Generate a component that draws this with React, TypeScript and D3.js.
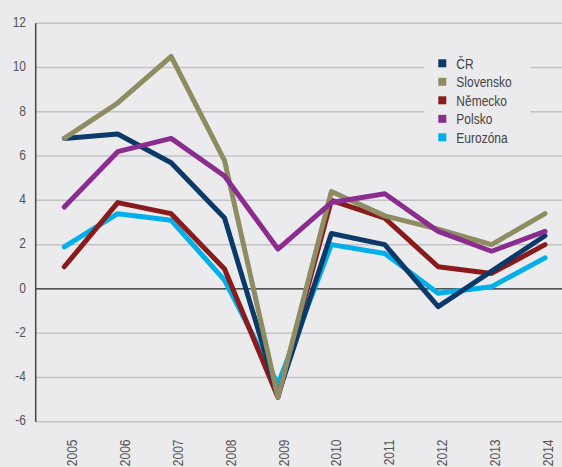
import React from 'react';
import * as d3 from 'd3';

const years = ['2005', '2006', '2007', '2008', '2009', '2010', '2011', '2012', '2013', '2014'];
const yTicks = [12, 10, 8, 6, 4, 2, 0, -2, -4, -6];

const crValues = [6.8, 7.0, 5.7, 3.2, -4.8, 2.5, 2.0, -0.8, 0.8, 2.4];
const skValues = [6.8, 8.4, 10.5, 5.8, -4.9, 4.4, 3.3, 2.7, 2.0, 3.4];
const deValues = [1.0, 3.9, 3.4, 0.9, -4.9, 4.0, 3.2, 1.0, 0.7, 2.0];
const plValues = [3.7, 6.2, 6.8, 5.1, 1.8, 3.9, 4.3, 2.6, 1.7, 2.6];
const ezValues = [1.9, 3.4, 3.1, 0.4, -4.3, 2.0, 1.6, -0.2, 0.1, 1.4];

const seriesNames = ['ČR', 'Slovensko', 'Německo', 'Polsko', 'Eurozóna'];

const colors: Record<string, string> = {
  'ČR': '#0b3a6a',
  'Slovensko': '#8e8c62',
  'Německo': '#8b1a1c',
  'Polsko': '#8b2d8e',
  'Eurozóna': '#00b0ea',
};

const valuesByName: Record<string, number[]> = {
  'ČR': crValues,
  'Slovensko': skValues,
  'Německo': deValues,
  'Polsko': plValues,
  'Eurozóna': ezValues,
};

// draw order (last on top)
const drawOrder = ['Eurozóna', 'Německo', 'ČR', 'Slovensko', 'Polsko'];

const W = 562;
const H = 467;
const font = '"Liberation Sans", Arial, sans-serif';
const squeeze = 0.8; // condensed look

export default function App() {
  const x = d3.scalePoint<string>().domain(years).range([64.3, 545]);
  const xLabel = d3.scalePoint<string>().domain(years).range([71.7, 547.8]);
  const y = d3.scaleLinear().domain([-6, 12]).range([421.7, 23.3]);
  const axisX = 35.7;

  const line = d3
    .line<number>()
    .x((_, i) => x(years[i]) as number)
    .y((d) => y(d));

  return (
    <svg
      width={W}
      height={H}
      style={{ position: 'absolute', left: 0, top: 0, display: 'block', background: '#ebebed' }}
    >
      <rect x={0} y={0} width={W} height={H} fill="#ebebed" />

      {/* gridlines */}
      {yTicks.filter((t) => t !== 0).map((t) => (
        <line key={t} x1={axisX} x2={W} y1={y(t)} y2={y(t)} stroke="#c3c3c5" strokeWidth={1.5} />
      ))}

      {/* y tick labels */}
      {yTicks.map((t) => (
        <text
          key={'l' + t}
          transform={`translate(26,${y(t) - 1.5}) scale(${squeeze},1)`}
          dy="0.35em"
          textAnchor="end"
          fontFamily={font}
          fontSize={15}
          fill="#555"
        >
          {t}
        </text>
      ))}

      {/* x tick labels */}
      {years.map((yr) => (
        <text
          key={yr}
          transform={`translate(${xLabel(yr)},439.5) rotate(-90) scale(${squeeze},1)`}
          dy="0.35em"
          textAnchor="end"
          fontFamily={font}
          fontSize={15}
          fill="#555"
        >
          {yr}
        </text>
      ))}

      {/* legend box */}
      <rect x={424} y={48} width={106} height={102} fill="#ebebed" />
      {seriesNames.map((name, i) => (
        <g key={name} transform={`translate(438.3,${59.3 + i * 18.5})`}>
          <rect x={0} y={0} width={8} height={8} fill={colors[name]} />
          <text
            transform={`translate(18,4) scale(${squeeze},1)`}
            dy="0.35em"
            fontFamily={font}
            fontSize={15}
            fill="#444"
          >
            {name}
          </text>
        </g>
      ))}

      {/* zero line */}
      <line x1={axisX} x2={W} y1={y(0)} y2={y(0)} stroke="#222" strokeWidth={1.2} />

      {/* y axis */}
      <line x1={axisX} x2={axisX} y1={y(12)} y2={y(-6)} stroke="#444" strokeWidth={1.5} />

      {/* series */}
      {drawOrder.map((name) => (
        <path
          key={name}
          d={line(valuesByName[name]) ?? ''}
          fill="none"
          stroke={colors[name]}
          strokeWidth={5}
          strokeLinejoin="round"
          strokeLinecap="round"
        />
      ))}
    </svg>
  );
}
